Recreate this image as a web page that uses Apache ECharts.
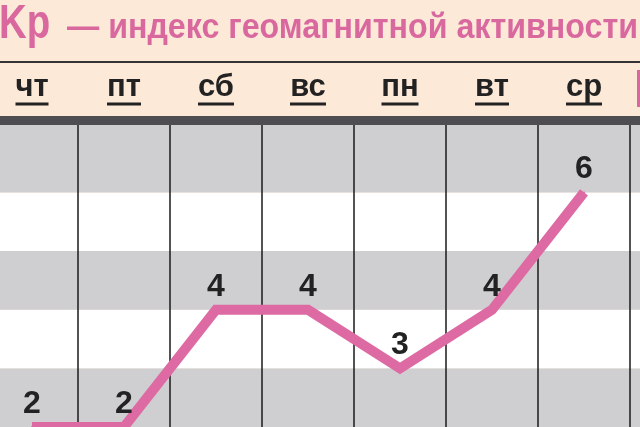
<!DOCTYPE html>
<html><head><meta charset="utf-8">
<script src="https://cdn.jsdelivr.net/npm/echarts@6/dist/echarts.min.js"></script>
<style>html,body{margin:0;padding:0;background:#fde9d7;overflow:hidden;}#c{width:654px;height:427px;margin-left:-14px;}</style>
</head><body><div id="c"></div>
<script>
const days = ['чт','пт','сб','вс','пн','вт','ср'];
const kpValues = [2, 2, 4, 4, 3, 4, 6];
const titleMain = 'Kp';
const titleRest = '— индекс геомагнитной активности';

const SH = 14; // page shift of the chart div
const pink = '#d9689f';
const dayFont = 'bold 31px "Liberation Sans"';
const mctx = document.createElement('canvas').getContext('2d');
mctx.font = dayFont;
const rich = {
  a: {fontFamily: 'Liberation Sans', fontWeight: 'bold', fontSize: 31, color: '#222', lineHeight: 31}
};
days.forEach((d, i) => {
  rich['u' + i] = {height: 3, lineHeight: 3, width: Math.round(mctx.measureText(d).width), backgroundColor: '#222'};
});

const bandColors = ['#cfcfd2', '#ffffff', '#cfcfd2', '#ffffff', '#cfcfd2', '#cfcfd2'];
const yAxisBase = {
  type: 'value', min: 2, max: 7.15, interval: 1,
  axisLine: {show: false}, axisTick: {show: false}, axisLabel: {show: false},
  splitLine: {show: false},
  splitArea: {show: true, areaStyle: {color: bandColors}}
};

const chart = echarts.init(document.getElementById('c'));
chart.setOption({
  backgroundColor: '#fde9d7',
  animation: false,
  graphic: [
    {type: 'text', x: SH - 1, y: 25, scaleX: 0.8, style: {text: titleMain, font: 'bold 48px "Liberation Sans"', fill: pink, textVerticalAlign: 'middle'}},
    {type: 'text', x: SH + 67, y: 28, scaleX: 0.92, style: {text: titleRest, font: 'bold 35px "Liberation Sans"', fill: pink, textVerticalAlign: 'middle'}},
    {type: 'line', shape: {x1: 0, y1: 62, x2: 700, y2: 62}, style: {stroke: '#333', lineWidth: 2}},
    {type: 'rect', shape: {x: 637 + SH, y: 70, width: 6, height: 37}, style: {fill: pink}}
  ],
  grid: [
    {left: 0, right: 10, top: 125, height: 305},
    {left: 644, right: 0, top: 125, height: 305}
  ],
  xAxis: [{
    type: 'category', data: days, position: 'top', boundaryGap: true, offset: 4.5, gridIndex: 0,
    axisLine: {show: true, lineStyle: {color: '#4d4d52', width: 9, cap: 'butt'}},
    axisTick: {show: false},
    axisLabel: {
      margin: 15,
      formatter: (v, i) => '{a|' + v + '}\n{u' + i + '|}',
      rich: rich
    },
    splitLine: {show: true, lineStyle: {color: '#1a1a1a', width: 1.5}}
  }, {
    type: 'value', gridIndex: 1, position: 'top', offset: 4.5, min: 0, max: 1,
    axisLine: {show: true, lineStyle: {color: '#4d4d52', width: 9, cap: 'butt'}},
    axisTick: {show: false}, axisLabel: {show: false}, splitLine: {show: false}
  }],
  yAxis: [
    Object.assign({gridIndex: 0}, yAxisBase),
    Object.assign({gridIndex: 1}, yAxisBase)
  ],
  series: [{
    type: 'line', data: kpValues, symbol: 'circle', symbolSize: 2,
    xAxisIndex: 0, yAxisIndex: 0,
    itemStyle: {color: '#de6aa4'},
    lineStyle: {color: '#de6aa4', width: 10, join: 'miter'},
    z: 5,
    label: {
      show: true, position: 'top', distance: 6,
      fontFamily: 'Liberation Sans', fontWeight: 'bold', fontSize: 32, color: '#222'
    }
  }]
});
</script></body></html>
